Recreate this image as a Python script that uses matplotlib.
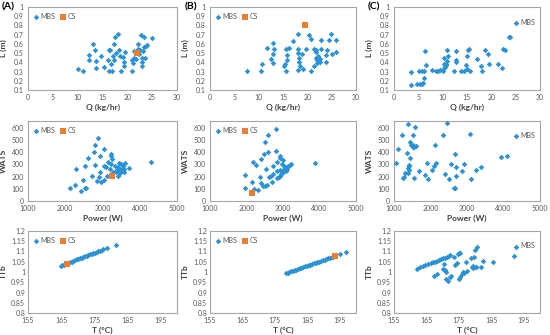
import matplotlib
matplotlib.use('Agg')
import matplotlib.pyplot as plt

# ---------------- data ----------------
# Row 1: Q (kg/hr) vs L (m)
qA = [10.1, 11.1, 12.2, 12.2, 13.1, 13.5, 13.6, 13.6, 14.6, 15.4, 16.1, 16.3, 16.5, 16.3, 16.7, 16.9,
      17.1, 17.4, 17.4, 17.5, 17.8, 18.1, 18.3, 18.5, 18.7, 19.1, 19.3, 19.3, 19.5, 20.9, 21.1, 21.0,
      21.3, 21.3, 21.8, 22.2, 22.2, 22.3, 22.6, 22.7, 22.9, 22.9, 23.0, 23.1, 23.3, 23.4, 23.7, 23.9,
      23.5, 24.9]
lA = [0.33, 0.31, 0.48, 0.42, 0.60, 0.53, 0.41, 0.34, 0.47, 0.35, 0.42, 0.53, 0.53, 0.31, 0.38, 0.31,
      0.47, 0.43, 0.60, 0.67, 0.50, 0.71, 0.53, 0.47, 0.31, 0.46, 0.40, 0.36, 0.51, 0.42, 0.39, 0.31,
      0.45, 0.52, 0.44, 0.60, 0.54, 0.49, 0.53, 0.70, 0.45, 0.40, 0.36, 0.52, 0.67, 0.57, 0.58, 0.59,
      0.45, 0.66]
qA_cs = [22.0]
lA_cs = [0.50]

qB = [7.5, 10.5, 10.6, 11.7, 12.5, 13.0, 13.0, 13.2, 13.0, 15.2, 15.4, 15.6, 15.7, 15.8, 15.8, 16.3,
      17.1, 18.0, 18.1, 18.1, 18.1, 18.2, 18.3, 18.4, 19.0, 19.2, 19.7, 20.3, 20.7, 20.8, 21.3, 21.4,
      21.7, 21.8, 21.8, 21.9, 22.0, 22.1, 22.2, 22.5, 22.5, 22.8, 22.8, 23.9, 23.9, 24.0, 24.4, 24.8,
      25.1, 25.8, 25.9]
lB = [0.31, 0.31, 0.38, 0.56, 0.44, 0.61, 0.49, 0.54, 0.39, 0.36, 0.38, 0.31, 0.54, 0.48, 0.43, 0.56,
      0.63, 0.32, 0.50, 0.54, 0.71, 0.45, 0.40, 0.36, 0.49, 0.33, 0.54, 0.70, 0.65, 0.31, 0.36, 0.54,
      0.53, 0.51, 0.45, 0.42, 0.39, 0.47, 0.46, 0.44, 0.40, 0.54, 0.64, 0.48, 0.40, 0.53, 0.64, 0.71,
      0.49, 0.64, 0.51]
qB_cs = [19.6]
lB_cs = [0.80]

qC = [3.4, 3.5, 5.1, 4.8, 5.3, 5.7, 5.8, 6.0, 6.1, 6.2, 6.4, 6.5, 7.8, 8.6, 9.0, 9.5, 10.0, 10.2,
      10.3, 10.3, 10.5, 10.6, 10.7, 10.8, 10.9, 11.1, 12.3, 12.7, 12.7, 12.8, 13.8, 14.3, 14.7, 14.9,
      15.0, 15.2, 15.5, 15.6, 17.1, 17.9, 18.1, 18.8, 19.3, 19.6, 21.4, 22.1, 22.5, 22.8, 23.7, 23.8]
lC = [0.15, 0.30, 0.31, 0.17, 0.16, 0.17, 0.31, 0.18, 0.23, 0.31, 0.52, 0.37, 0.32, 0.31, 0.31, 0.32,
      0.31, 0.34, 0.45, 0.38, 0.35, 0.37, 0.38, 0.41, 0.53, 0.47, 0.31, 0.52, 0.42, 0.40, 0.31, 0.31,
      0.37, 0.47, 0.33, 0.53, 0.54, 0.31, 0.44, 0.36, 0.31, 0.53, 0.49, 0.38, 0.38, 0.34, 0.54, 0.53,
      0.67, 0.68]

# Row 2: Power (W) vs WATS
pA = [2120, 2250, 2280, 2420, 2480, 2530, 2570, 2530, 2600, 2720, 2760, 2810, 2810, 2850, 2890, 2900,
      2920, 2940, 2960, 3050, 3030, 3050, 3100, 3130, 3160, 3190, 3220, 3240, 3240, 3260, 3280, 3260,
      3330, 3350, 3370, 3390, 3410, 3420, 3440, 3460, 3440, 3480, 3510, 3520, 3550, 3570, 3580, 3600,
      3710, 4290]
wA = [105, 133, 262, 84, 173, 108, 108, 284, 349, 208, 403, 459, 297, 165, 519, 195,
      241, 370, 154, 168, 424, 284, 276, 208, 316, 262, 384, 370, 300, 343, 235, 203,
      289, 249, 235, 257, 276, 208, 311, 257, 241, 230, 303, 262, 289, 241, 262, 311,
      268, 322]
pA_cs = [3250]
wA_cs = [208]

pB = [1950, 1970, 2140, 2180, 2200, 2270, 2320, 2360, 2390, 2410, 2440, 2470, 2500, 2500, 2530, 2550,
      2590, 2590, 2610, 2660, 2700, 2730, 2730, 2820, 2820, 2840, 2840, 2840, 2880, 2910, 2920, 2930,
      2930, 2950, 2970, 2980, 3000, 3010, 3030, 3030, 3040, 3060, 3090, 3100, 3120, 3140, 3200, 3230,
      3890]
wB = [103, 212, 152, 321, 98, 294, 90, 198, 340, 149, 125, 381, 122, 481, 266, 130,
      402, 538, 198, 207, 158, 288, 217, 408, 587, 321, 245, 190, 196, 367, 353, 253,
      204, 217, 299, 226, 334, 239, 253, 288, 266, 261, 245, 280, 266, 288, 294, 307,
      315]
pB_cs = [2140]
wB_cs = [63]

pC = [1060, 1120, 1230, 1240, 1280, 1290, 1350, 1370, 1390, 1390, 1400, 1410, 1420, 1440, 1440, 1470,
      1510, 1510, 1520, 1530, 1550, 1560, 1580, 1610, 1690, 1850, 1900, 1920, 2040, 2100, 2120, 2160,
      2350, 2390, 2460, 2500, 2560, 2650, 2660, 2680, 2710, 2710, 2860, 2930, 3090, 3120, 3260, 3390,
      3920, 4090]
wC = [310, 424, 540, 188, 193, 228, 397, 633, 228, 269, 296, 283, 255, 481, 351, 459,
      540, 459, 440, 446, 188, 440, 609, 451, 247, 209, 310, 182, 255, 283, 456, 310,
      540, 222, 638, 182, 305, 109, 106, 383, 275, 207, 247, 305, 546, 182, 253, 277,
      364, 370]

# Row 3: T (°C) vs TTb
tA = [165.0, 165.4, 165.8, 166.2, 166.7, 167.2, 167.7, 168.2, 168.7, 169.2, 169.7, 170.2, 170.7,
      171.2, 171.7, 172.2, 172.7, 173.2, 173.7, 174.2, 174.7, 175.2, 175.7, 176.2, 176.7, 177.2,
      177.7, 179.0, 181.5]
ttA = [1.031, 1.034, 1.036, 1.039, 1.042, 1.045, 1.048, 1.051, 1.054, 1.058, 1.061, 1.064, 1.067,
       1.070, 1.073, 1.076, 1.079, 1.083, 1.086, 1.089, 1.092, 1.095, 1.098, 1.101, 1.104, 1.108,
       1.111, 1.119, 1.134]
tA_cs = [166.9]
ttA_cs = [1.040]

tB = [178.5, 179.0, 179.5, 180.0, 180.6, 181.1, 181.6, 182.2, 182.7, 183.2, 183.8, 184.3, 184.9,
      185.4, 185.9, 186.5, 187.0, 187.6, 188.1, 188.6, 189.2, 189.7, 190.3, 190.8, 191.4, 191.9,
      192.5, 193.0, 195.0, 196.8]
ttB = [0.994, 0.997, 1.000, 1.003, 1.006, 1.009, 1.012, 1.015, 1.018, 1.021, 1.024, 1.027, 1.030,
       1.033, 1.036, 1.039, 1.042, 1.045, 1.048, 1.051, 1.054, 1.057, 1.060, 1.063, 1.066, 1.069,
       1.072, 1.075, 1.086, 1.096]
tB_cs = [193.6]
ttB_cs = [1.078]

tC = [162.1, 163.0, 163.8, 164.7, 165.5, 166.3, 167.0, 167.6, 168.2, 168.8, 169.4, 170.0, 170.6,
      171.2, 171.8, 172.4, 167.3, 168.1, 170.2, 170.7, 170.9, 171.1, 171.6, 172.4, 172.6, 170.3,
      173.6, 173.9, 174.4, 174.6, 174.9, 175.2, 175.0, 175.2, 175.9, 176.4, 176.7, 177.2, 177.4,
      178.6, 178.9, 179.2, 179.4, 179.6, 179.9, 180.2, 180.4, 180.7, 181.9, 182.5, 185.5, 191.9]
ttC = [1.016, 1.022, 1.027, 1.033, 1.038, 1.043, 1.047, 1.051, 1.055, 1.058, 1.062, 1.066, 1.070,
       1.073, 1.077, 1.081, 0.981, 0.990, 1.014, 1.009, 1.001, 0.964, 0.954, 0.976, 0.981, 1.037,
       1.075, 1.034, 1.042, 1.087, 1.092, 1.092, 0.968, 0.976, 0.988, 0.998, 0.993, 1.051, 1.004,
       1.067, 1.026, 1.031, 1.021, 1.075, 1.109, 1.026, 1.026, 1.121, 1.026, 1.054, 1.047, 1.080]

panel_labels = ['(A)', '(B)', '(C)']

# ---------------- layout ----------------
W, H = 550, 335
fig = plt.figure(figsize=(W / 100, H / 100), dpi=100)
plt.rcParams['font.family'] = ['Lato', 'DejaVu Sans']

cols = [(28, 177), (210, 356), (394, 540)]
rows = [(7, 90), (121, 201), (231, 313)]
ylab_x = [7, 189, 373]

BLUE = '#2A93D5'
ORANGE = '#ED7D31'
TICK = '#595959'
LAB = '#404040'


def make_ax(r, c):
    x0, x1 = cols[c]
    y0, y1 = rows[r]
    ax = fig.add_axes([x0 / W, 1 - y1 / H, (x1 - x0) / W, (y1 - y0) / H])
    for s in ax.spines.values():
        s.set_color('#A6A6A6')
        s.set_linewidth(0.8)
    ax.tick_params(length=0, labelsize=5, colors=TICK, pad=3)
    return ax


row_data = [
    [(qA, lA, qA_cs, lA_cs), (qB, lB, qB_cs, lB_cs), (qC, lC, None, None)],
    [(pA, wA, pA_cs, wA_cs), (pB, wB, pB_cs, wB_cs), (pC, wC, None, None)],
    [(tA, ttA, tA_cs, ttA_cs), (tB, ttB, tB_cs, ttB_cs), (tC, ttC, None, None)],
]

xlabels = ['Q (kg/hr)', 'Power (W)', 'T (\u00b0C)']
ylabels = ['L (m)', 'WATS', 'TTb']

for r in range(3):
    for c in range(3):
        ax = make_ax(r, c)
        x, y, xc, yc = row_data[r][c]
        ax.scatter(x, y, s=8, marker='D', color=BLUE, linewidths=0, label='MBS', zorder=3)
        if xc is not None:
            ax.scatter(xc, yc, s=18, marker='s', color=ORANGE, linewidths=0, label='CS', zorder=4)
        if r == 0:
            ax.set_xlim(0, 30)
            ax.set_xticks([0, 5, 10, 15, 20, 25, 30])
            ax.set_ylim(0.1, 1.0)
            yt = [0.1, 0.2, 0.3, 0.4, 0.5, 0.6, 0.7, 0.8, 0.9, 1.0]
            ax.set_yticks(yt)
            ax.set_yticklabels(['0.1', '0.2', '0.3', '0.4', '0.5', '0.6', '0.7', '0.8', '0.9', '1'])
        elif r == 1:
            ax.set_xlim(1000, 5000)
            ax.set_xticks([1000, 2000, 3000, 4000, 5000])
            ax.set_ylim(0, 655)
            ax.set_yticks([0, 100, 200, 300, 400, 500, 600])
        else:
            ax.set_xlim(155, 200)
            ax.set_xticks([155, 165, 175, 185, 195])
            ax.set_ylim(0.8, 1.2)
            ax.set_yticks([0.8, 0.85, 0.9, 0.95, 1.0, 1.05, 1.1, 1.15, 1.2])
            ax.set_yticklabels(['0.8', '0.85', '0.9', '0.95', '1', '1.05', '1.1', '1.15', '1.2'])
            ax.tick_params(axis='y', pad=2)
        ax.set_xlabel(xlabels[r], fontsize=6, fontweight='bold', color=LAB, labelpad=2)
        ax.set_ylabel(ylabels[r], fontsize=6, fontweight='bold', color=LAB)
        x0, x1 = cols[c]
        ax.yaxis.set_label_coords((ylab_x[c] - x0) / (x1 - x0), 0.5)
        if c < 2:
            ax.legend(loc='upper left', ncol=2, frameon=False, fontsize=5, handlelength=0.6,
                      handletextpad=0.3, columnspacing=0.8, borderaxespad=0.5, labelcolor=TICK,
                      markerscale=1.0)
        else:
            ax.legend(loc='upper right', frameon=False, fontsize=5, handlelength=0.6,
                      handletextpad=0.3, borderaxespad=0.3, labelcolor=TICK,
                      bbox_to_anchor=(1.0, 0.92))

for i, lab in enumerate(panel_labels):
    xs = [2, 185, 368][i]
    fig.text(xs / W, 1 - 7 / H, lab, fontsize=7.5, fontweight='bold', color='black', va='center',
             ha='left')

fig.savefig('out.png', dpi=100)
